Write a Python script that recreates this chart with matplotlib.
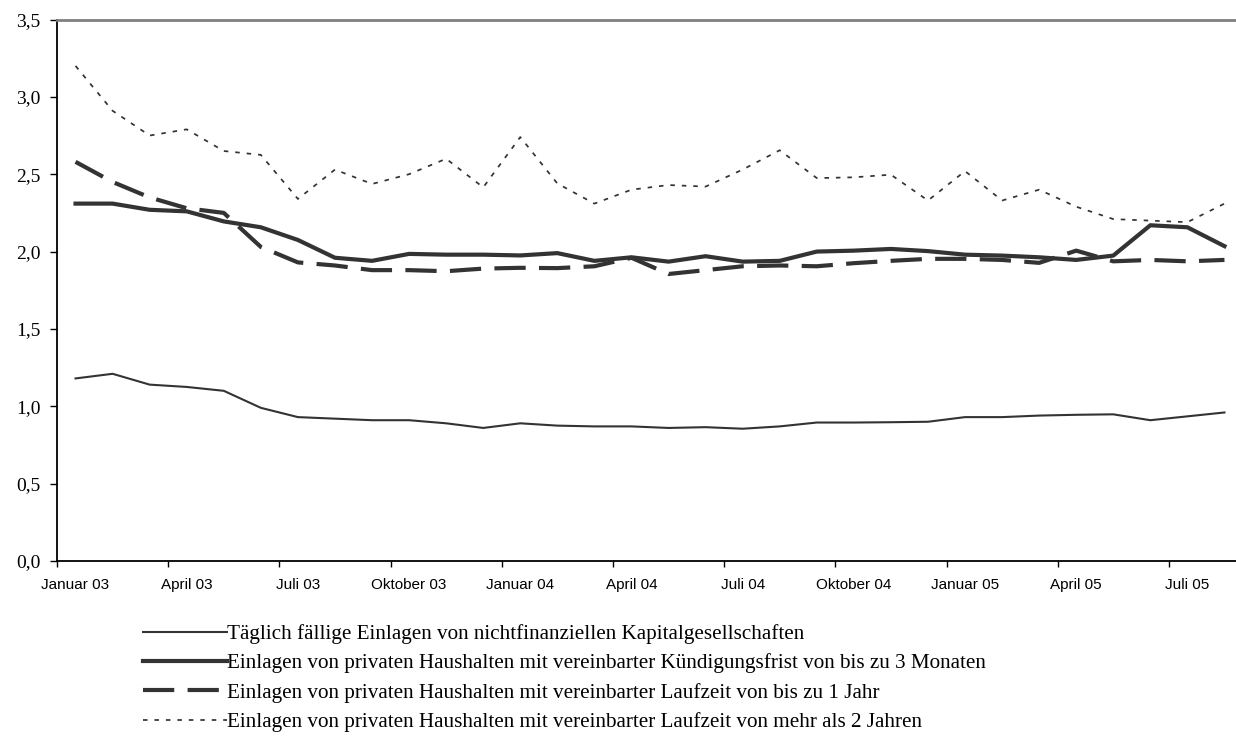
import numpy as np
import matplotlib
matplotlib.use("Agg")
import matplotlib.pyplot as plt

# monthly values, Januar 03 .. August 05 (32 months)
taeglich_faellig = [1.18, 1.21, 1.14, 1.125, 1.10, 0.99, 0.93, 0.92, 0.91, 0.91, 0.89, 0.86,
                    0.89, 0.875, 0.87, 0.87, 0.86, 0.865, 0.855, 0.87, 0.895, 0.895, 0.897, 0.90,
                    0.93, 0.93, 0.94, 0.945, 0.948, 0.91, 0.935, 0.96]
kuendigung_3m = [2.31, 2.31, 2.27, 2.26, 2.195, 2.157, 2.075, 1.96, 1.94, 1.985, 1.98, 1.98,
                 1.975, 1.99, 1.94, 1.963, 1.935, 1.97, 1.935, 1.94, 2.00, 2.006, 2.017, 2.003,
                 1.98, 1.974, 1.963, 1.946, 1.974, 2.17, 2.157, 2.035]
laufzeit_1j = [2.58, 2.45, 2.35, 2.28, 2.25, 2.03, 1.93, 1.91, 1.88, 1.88, 1.873, 1.89,
               1.895, 1.893, 1.905, 1.96, 1.855, 1.88, 1.905, 1.91, 1.905, 1.925, 1.94, 1.953,
               1.953, 1.946, 1.927, 2.006, 1.937, 1.946, 1.937, 1.946]
laufzeit_2j = [3.20, 2.91, 2.75, 2.79, 2.65, 2.625, 2.34, 2.53, 2.437, 2.50, 2.60, 2.415,
               2.74, 2.44, 2.31, 2.40, 2.43, 2.42, 2.53, 2.655, 2.475, 2.48, 2.497, 2.33,
               2.52, 2.33, 2.40, 2.29, 2.21, 2.20, 2.19, 2.31]

month_labels = ["Januar 03", "April 03", "Juli 03", "Oktober 03", "Januar 04", "April 04",
                "Juli 04", "Oktober 04", "Januar 05", "April 05", "Juli 05"]
y_ticks = [0.0, 0.5, 1.0, 1.5, 2.0, 2.5, 3.0, 3.5]

legend_labels = [
    "Täglich fällige Einlagen von nichtfinanziellen Kapitalgesellschaften",
    "Einlagen von privaten Haushalten mit vereinbarter Kündigungsfrist von bis zu 3 Monaten",
    "Einlagen von privaten Haushalten mit vereinbarter Laufzeit von bis zu 1 Jahr",
    "Einlagen von privaten Haushalten mit vereinbarter Laufzeit von mehr als 2 Jahren",
]

col = "#333333"
W, H = 1236, 737
fig = plt.figure(figsize=(W / 100, H / 100), dpi=100)
ax = fig.add_axes([57 / W, 1 - 561 / H, 1186 / W, (561 - 19.5) / H])

x = np.arange(len(taeglich_faellig))
l1, = ax.plot(x, taeglich_faellig, color=col, lw=1.5, solid_joinstyle="round")
l2, = ax.plot(x, kuendigung_3m, color=col, lw=3.0, solid_joinstyle="round")
l3, = ax.plot(x, laufzeit_1j, color=col, lw=3.0, dashes=(7.5, 3.2))
l4, = ax.plot(x, laufzeit_2j, color=col, lw=1.25, dashes=(2.6, 4.0))

ax.set_xlim(-0.5, len(x) - 0.5)
ax.set_ylim(0, 3.5)

# ticks at category boundaries, labels on categories
ax.set_xticks(np.arange(-0.5, len(x) - 0.5, 3))
ax.set_xticklabels([])
ax.set_xticks(np.arange(0, len(x), 3), minor=True)
ax.set_xticklabels(month_labels, minor=True, fontfamily="Liberation Sans", fontsize=11)
ax.tick_params(axis="x", which="major", direction="out", length=4, width=1)
ax.tick_params(axis="x", which="minor", length=0, pad=12)

ax.set_yticks(y_ticks)
ax.set_yticklabels([f"{v:.1f}".replace(".", ",") for v in y_ticks],
                   fontfamily="Liberation Serif", fontsize=14)
ax.tick_params(axis="y", direction="out", length=5, width=1, pad=7)

ax.spines["right"].set_visible(False)
ax.spines["top"].set_color("#808080")
ax.spines["top"].set_linewidth(2)
ax.spines["left"].set_linewidth(1.3)
ax.spines["bottom"].set_linewidth(1.3)

fig.legend([l1, l2, l3, l4], legend_labels, loc="upper left",
           bbox_to_anchor=(143 / W, 1 - 624 / H), frameon=False,
           prop={"family": "Liberation Serif", "size": 15.2},
           handlelength=4.0, handletextpad=0.0, labelspacing=0.45,
           borderpad=0, borderaxespad=0)

fig.savefig("out.png", dpi=100)
